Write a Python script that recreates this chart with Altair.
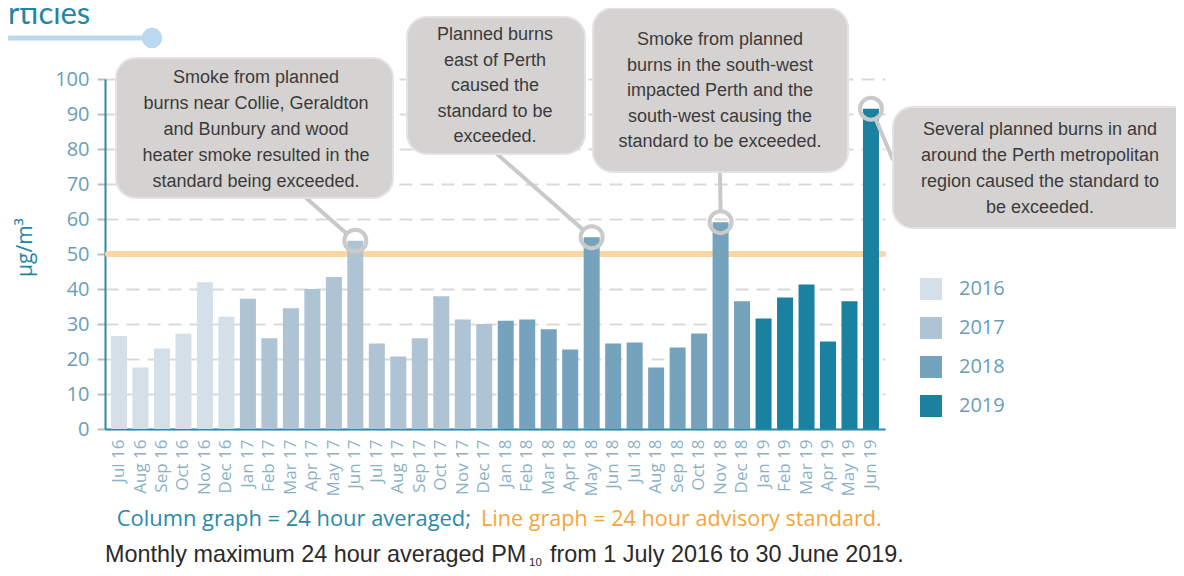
import altair as alt
import pandas as pd

months = ["Jul 16", "Aug 16", "Sep 16", "Oct 16", "Nov 16", "Dec 16",
          "Jan 17", "Feb 17", "Mar 17", "Apr 17", "May 17", "Jun 17",
          "Jul 17", "Aug 17", "Sep 17", "Oct 17", "Nov 17", "Dec 17",
          "Jan 18", "Feb 18", "Mar 18", "Apr 18", "May 18", "Jun 18",
          "Jul 18", "Aug 18", "Sep 18", "Oct 18", "Nov 18", "Dec 18",
          "Jan 19", "Feb 19", "Mar 19", "Apr 19", "May 19", "Jun 19"]
values = [26.6, 17.6, 23.0, 27.2, 41.9, 32.1,
          37.2, 25.9, 34.5, 40.0, 43.4, 53.8,
          24.4, 20.7, 25.9, 37.9, 31.3, 30.0,
          30.9, 31.3, 28.5, 22.7, 54.8, 24.4,
          24.7, 17.6, 23.3, 27.3, 59.1, 36.5,
          31.6, 37.6, 41.3, 25.0, 36.5, 91.5]
years = ["2016"] * 6 + ["2017"] * 12 + ["2018"] * 12 + ["2019"] * 6
year_names = ["2016", "2017", "2018", "2019"]
year_colors = ["#d4dfe8", "#aec3d4", "#75a2bc", "#1a81a1"]
y_ticks = [0, 10, 20, 30, 40, 50, 60, 70, 80, 90, 100]
standard = 50

callout_months = ["Jun 17", "May 18", "Nov 18", "Jun 19"]
callout_texts = [
    ["Smoke from planned", "burns near Collie, Geraldton", "and Bunbury and wood",
     "heater smoke resulted in the", "standard being exceeded."],
    ["Planned burns", "east of Perth", "caused the", "standard to be", "exceeded."],
    ["Smoke from planned", "burns in the south-west", "impacted Perth and the",
     "south-west causing the", "standard to be exceeded."],
    ["Several planned burns in and", "around the Perth metropolitan",
     "region caused the standard to", "be exceeded."],
]

df = pd.DataFrame({"month": months, "value": values, "year": years})
one = pd.DataFrame({"k": [0]})

FONT = "Open Sans"
TEAL = "#2b8aa8"
GREY_LINE = "#cac8c8"

y_axis = alt.Axis(values=y_ticks, tickCount=11, title="µg/m³", grid=True, gridDash=[13, 8],
                  gridColor="#dadada", gridWidth=2, domainColor=TEAL, domainWidth=2,
                  tickColor="#bdbdbd", tickSize=8, tickWidth=2, labelOverlap=False,
                  labelFont=FONT, labelFontSize=20, labelColor="#6a9eb8",
                  labelPadding=8, titleFont=FONT, titleFontSize=21,
                  titleColor="#1f88a8", titleFontWeight="normal",
                  titleX=-80, titleY=168, titleAngle=270,
                  titleAlign="center", titleBaseline="middle")
y_scale = alt.Scale(domain=[0, 100], nice=False)

X = alt.X("month:N", sort=months,
          scale=alt.Scale(paddingInner=0.255, paddingOuter=0.28),
          axis=alt.Axis(title=None, labelAngle=-90, labelFont=FONT, labelFontSize=17,
                        labelColor="#8bb1c6", ticks=False, labelPadding=10,
                        domainColor=TEAL, domainWidth=2, grid=False, labelOverlap=False,
                        labelAlign="right", labelBaseline="middle"))
Y = alt.Y("value:Q", scale=y_scale, axis=y_axis)

std_line = alt.Chart(one).mark_rule(color="#fdd7a3", strokeWidth=6, strokeCap="round").encode(
    x=alt.value(3), x2=alt.value(778),
    y=alt.YDatum(standard, scale=y_scale, axis=y_axis))

bars = alt.Chart(df).mark_bar().encode(
    x=X, y=Y,
    color=alt.Color("year:N", scale=alt.Scale(domain=year_names, range=year_colors),
                    legend=alt.Legend(title=None, orient="none", legendX=815, legendY=199,
                                      symbolType="square", symbolSize=484,
                                      symbolStrokeWidth=0, labelFont=FONT,
                                      labelFontSize=20, labelColor="#6a9eb8",
                                      rowPadding=17, labelOffset=17, symbolOpacity=1)))

Xp = alt.X("month:N", sort=months)
Yp = alt.Y("value:Q")

# connectors: (month, xOffset, yOffset, x2, y2) -- box end in plot pixels
conn_specs = [("Jun 17", -8.5, -6.9, 200, 118),
              ("May 18", -8.3, -7.2, 392, 75),
              ("Nov 18", 0, -11, 615, 93),
              ("Jun 19", 4.6, 9.9, 788, 81)]
connectors = []
for m, xo, yo, x2, y2 in conn_specs:
    connectors.append(
        alt.Chart(df).transform_filter(alt.datum.month == m)
        .mark_rule(color=GREY_LINE, strokeWidth=4, xOffset=xo, yOffset=yo)
        .encode(x=Xp, y=Yp, x2=alt.value(x2), y2=alt.value(y2)))

rings = alt.Chart(df).transform_filter(
    alt.FieldOneOfPredicate(field="month", oneOf=callout_months)
).mark_point(shape="circle", size=484, filled=False, color="#cbc9c9",
             strokeWidth=4, opacity=1).encode(x=Xp, y=Yp)

box_specs = [(11, -21, 288, 119), (302, -62, 480, 75), (488, -71, 743, 93), (788, 28, 1090, 149)]
text_specs = [(151, -1, 26), (390, -44, 25.5), (615, -39, 25.5), (935, 51, 26)]
boxes = []
texts = []
for (x1, y1, x2, y2), (cx, cy, lh), lines in zip(box_specs, text_specs, callout_texts):
    boxes.append(alt.Chart(one).mark_rect(cornerRadius=20, fill="#d5d2d2", stroke="#e4e2e2",
                                          strokeWidth=2).encode(
        x=alt.value(x1), x2=alt.value(x2), y=alt.value(y1), y2=alt.value(y2)))
    texts.append(alt.Chart(one).mark_text(align="center", baseline="middle", lineHeight=lh,
                                          font="Liberation Sans", fontSize=18,
                                          color="#3b3b3b").encode(
        x=alt.value(cx), y=alt.value(cy), text=alt.value(lines)))

# header fragment
header_text = alt.Chart(one).mark_text(align="left", baseline="alphabetic", font="Lato",
                                       fontSize=31, color="#1f86a6").encode(
    x=alt.value(-97), y=alt.value(-55), text=alt.value("rticles"))
header_line = alt.Chart(one).mark_rule(color="#bad8f0", strokeWidth=5).encode(
    x=alt.value(-97), x2=alt.value(47), y=alt.value(-41))
header_dot = alt.Chart(one).mark_point(shape="circle", size=420, filled=True,
                                       color="#bad8f0", opacity=1).encode(
    x=alt.value(47), y=alt.value(-41))

# footer texts
legend_col = alt.Chart(one).mark_text(align="right", baseline="alphabetic", font=FONT,
                                      fontSize=21.9, color="#2a8aa8").encode(
    x=alt.value(366), y=alt.value(447), text=alt.value("Column graph = 24 hour averaged;"))
legend_line = alt.Chart(one).mark_text(align="left", baseline="alphabetic", font=FONT,
                                       fontSize=21.6, color="#f5a53c").encode(
    x=alt.value(376), y=alt.value(447), text=alt.value("Line graph = 24 hour advisory standard."))
cap1 = alt.Chart(one).mark_text(align="left", baseline="alphabetic", font="Liberation Sans",
                                fontSize=23.4, color="#2a2a2a").encode(
    x=alt.value(0), y=alt.value(483), text=alt.value("Monthly maximum 24 hour averaged PM"))
cap_sub = alt.Chart(one).mark_text(align="left", baseline="alphabetic", font="Liberation Sans",
                                   fontSize=11.5, color="#2a2a2a").encode(
    x=alt.value(424), y=alt.value(487), text=alt.value("10"))
cap2 = alt.Chart(one).mark_text(align="left", baseline="alphabetic", font="Liberation Sans",
                                fontSize=23.4, color="#2a2a2a").encode(
    x=alt.value(445), y=alt.value(483), text=alt.value("from 1 July 2016 to 30 June 2019."))

chart = alt.layer(
    std_line, bars, *connectors, rings, *boxes, *texts,
    header_line, header_dot, header_text,
    legend_col, legend_line, cap1, cap_sub, cap2
).properties(
    width=780, height=350,
    autosize=alt.AutoSizeParams(type="none"),
    padding={"left": 97, "top": 71, "right": 291, "bottom": 139},
    background="white",
).configure_view(stroke=None)

chart.save("out.html", embed_options={"renderer": "svg", "actions": False})
